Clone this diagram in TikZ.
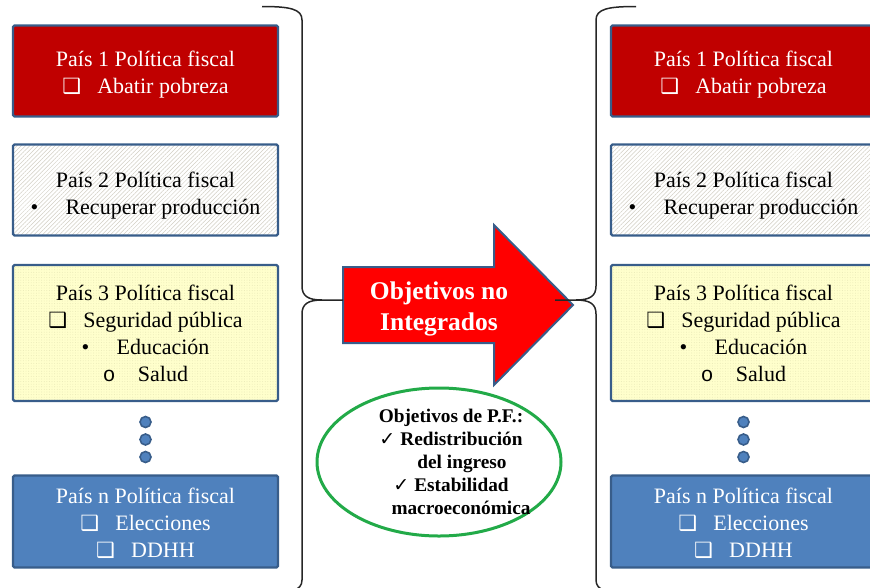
\documentclass[tikz,border=0pt]{standalone}
\usepackage{fontspec}
\setmainfont{Liberation Serif}
\newfontfamily\dejavu{DejaVu Sans}
\newfontfamily\monofam{Liberation Mono}
\usetikzlibrary{patterns.meta,shapes.geometric}

\definecolor{boxedge}{HTML}{385D8A}
\definecolor{darkred}{HTML}{C00000}
\definecolor{steel}{HTML}{4F81BD}
\definecolor{paleyellow}{HTML}{FFFFCC}
\definecolor{arrowred}{HTML}{FF0000}
\definecolor{ringgreen}{HTML}{22AA48}
\definecolor{hatchgray}{HTML}{D2CFC4}
\definecolor{dotyellow}{HTML}{E6E6B4}

% list markers, each in a fixed-width slot before the item text
\newcommand\sqmark{\makebox[35pt][l]{\dejavu\fontsize{21}{21}\selectfont ❑}}
\newcommand\dotmark{\makebox[35pt][l]{•}}
\newcommand\ringmark{\makebox[35pt][l]{\monofam\fontsize{21}{21}\selectfont o}}
\newcommand\tickmark{\makebox[21pt][l]{\dejavu\mdseries\fontsize{19}{19}\selectfont ✓}}

\tikzset{
  pbox/.style={draw=boxedge, line width=2.4pt, rounded corners=1.5pt,
    minimum width=265pt, minimum height=91pt, inner sep=0pt},
  ptext/.style={align=center, inner sep=0pt, font=\fontsize{22}{27}\selectfont},
  redbox/.style={pbox, fill=darkred},
  hatchbox/.style={pbox, preaction={fill=white},
    pattern={Lines[angle=45,distance=3pt,line width=0.5pt]}, pattern color=hatchgray},
  yellowbox/.style={pbox, minimum height=136pt, preaction={fill=paleyellow},
    pattern={Dots[radius=0.45pt,distance=2.6pt]}, pattern color=dotyellow},
  bluebox/.style={pbox, minimum height=92pt, fill=steel},
  ellipsis dot/.style={circle, fill=steel, draw=boxedge, line width=1.6pt,
    minimum size=11pt, inner sep=0pt},
  bracket/.style={line width=1.5pt, draw=black!85},
  bigarrow/.style={fill=arrowred, draw=boxedge, line width=2pt, line join=miter},
}

\begin{document}
\begin{tikzpicture}[x=1pt, y=-1pt]
\useasboundingbox (0,0) rectangle (870,587);
\clip (0,0) rectangle (870,587);

% two columns of country boxes
\foreach \side/\dx in {l/0, r/598} {
  \node[redbox]    (p1\side) at (145.5+\dx, 71)    {};
  \node[ptext, text=white] (t1\side) at (145.5+\dx, 75) {País 1 Política fiscal\\ \sqmark Abatir pobreza};
  \node[hatchbox]  (p2\side) at (145.5+\dx, 190)   {};
  \node[ptext]     (t2\side) at (145.5+\dx, 195.5) {País 2 Política fiscal\\ \dotmark Recuperar producción};
  \node[yellowbox] (p3\side) at (145.5+\dx, 333)   {};
  \node[ptext]     (t3\side) at (145.5+\dx, 333)   {País 3 Política fiscal\\ \sqmark Seguridad pública\\ \dotmark Educación\\ \ringmark Salud};
  \node[ellipsis dot] (d1\side) at (145.5+\dx, 422) {};
  \node[ellipsis dot] (d2\side) at (145.5+\dx, 439.5) {};
  \node[ellipsis dot] (d3\side) at (145.5+\dx, 457) {};
  \node[bluebox]   (pn\side) at (145.5+\dx, 521.5) {};
  \node[ptext, text=white] (tn\side) at (145.5+\dx, 523.5) {País n Política fiscal\\ \sqmark Elecciones\\ \sqmark DDHH};
}

% central block arrow
\path[bigarrow] (343,267) -- (494,267) -- (494,225) -- (573,305)
  -- (494,385) -- (494,343) -- (343,343) -- cycle;
\node[text=white, font=\bfseries\fontsize{25.5}{31}\selectfont, align=center]
  (arrowtext) at (439,309) {Objetivos no\\Integrados};

% brace tips touching the arrow
\coordinate (ltip) at (343,300);
\coordinate (rtip) at (555,300);

% left brace
\draw[bracket] (262,6.5) .. controls (290,6.5) and (302,9) .. (302,20)
  -- (302,286) .. controls (302,296) and (308,300) .. (322,300) -- (ltip);
\draw[bracket] (322,300) .. controls (308,300) and (302,304) .. (302,314)
  -- (302,580) .. controls (302,591) and (290,593.5) .. (262,593.5);

% right brace
\draw[bracket] (636,6.5) .. controls (608,6.5) and (596,9) .. (596,20)
  -- (596,286) .. controls (596,296) and (590,300) .. (576,300) -- (rtip);
\draw[bracket] (576,300) .. controls (590,300) and (596,304) .. (596,314)
  -- (596,580) .. controls (596,591) and (608,593.5) .. (636,593.5);

% goals of fiscal policy
\node[ellipse, draw=ringgreen, line width=3pt, minimum width=244pt,
  minimum height=148pt] (goals) at (439,462) {};
\node[font=\bfseries\fontsize{19.3}{23}\selectfont, align=center, inner sep=0pt]
  (goaltext) at (451,462)
  {Objetivos de P.F.:\\ \tickmark Redistribución\\ \hspace*{22pt}del ingreso\\
   \tickmark Estabilidad\\ \hspace*{20pt}macroeconómica};
\end{tikzpicture}
\end{document}
